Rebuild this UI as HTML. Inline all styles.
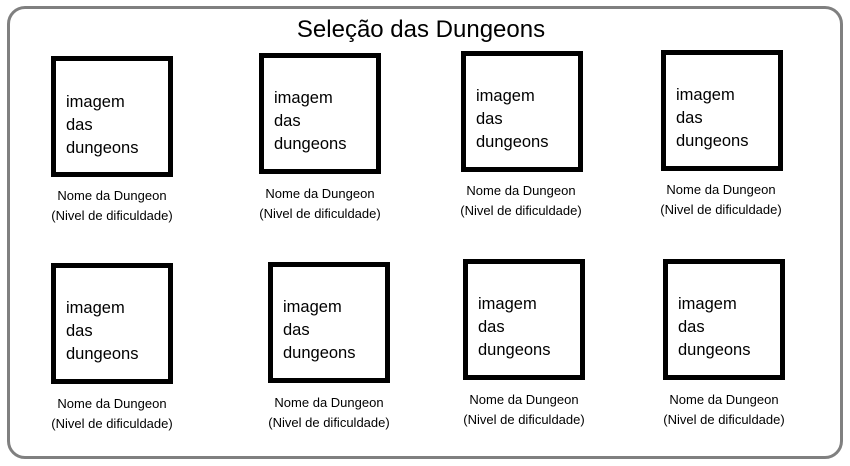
<!DOCTYPE html>
<html><head><meta charset="utf-8"><style>
body{margin:0;width:850px;height:466px;background:#fff;position:relative;overflow:hidden;font-family:"Liberation Sans",sans-serif;}
.frame{position:absolute;left:7px;top:6px;width:830px;height:447px;border:3px solid #808080;border-radius:18px;}
.title{position:absolute;left:0;width:842px;top:16px;text-align:center;font-size:24px;color:#000;}
.box{position:absolute;width:112px;height:111px;border:5px solid #000;box-sizing:content-box;}
.t{position:absolute;font-size:16.5px;line-height:23px;color:#000;}
.c{position:absolute;width:180px;text-align:center;font-size:13px;line-height:19.5px;color:#000;}
</style></head><body>
<div class="frame"></div>
<div class="title">Seleção das Dungeons</div>

<div class="box" style="left:51px;top:56px"></div><div class="t" style="left:66px;top:91px">imagem<br>das<br>dungeons</div>
<div class="c" style="left:22px;top:186px">Nome da Dungeon<br>(Nivel de dificuldade)</div>

<div class="box" style="left:259px;top:53px"></div><div class="t" style="left:274px;top:87px">imagem<br>das<br>dungeons</div>
<div class="c" style="left:230px;top:184px">Nome da Dungeon<br>(Nivel de dificuldade)</div>

<div class="box" style="left:461px;top:51px"></div><div class="t" style="left:476px;top:85px">imagem<br>das<br>dungeons</div>
<div class="c" style="left:431px;top:181px">Nome da Dungeon<br>(Nivel de dificuldade)</div>

<div class="box" style="left:661px;top:50px"></div><div class="t" style="left:676px;top:84px">imagem<br>das<br>dungeons</div>
<div class="c" style="left:631px;top:180px">Nome da Dungeon<br>(Nivel de dificuldade)</div>

<div class="box" style="left:51px;top:263px"></div><div class="t" style="left:66px;top:297px">imagem<br>das<br>dungeons</div>
<div class="c" style="left:22px;top:394px">Nome da Dungeon<br>(Nivel de dificuldade)</div>

<div class="box" style="left:268px;top:262px"></div><div class="t" style="left:283px;top:296px">imagem<br>das<br>dungeons</div>
<div class="c" style="left:239px;top:393px">Nome da Dungeon<br>(Nivel de dificuldade)</div>

<div class="box" style="left:463px;top:259px"></div><div class="t" style="left:478px;top:293px">imagem<br>das<br>dungeons</div>
<div class="c" style="left:434px;top:390px">Nome da Dungeon<br>(Nivel de dificuldade)</div>

<div class="box" style="left:663px;top:259px"></div><div class="t" style="left:678px;top:293px">imagem<br>das<br>dungeons</div>
<div class="c" style="left:634px;top:390px">Nome da Dungeon<br>(Nivel de dificuldade)</div>
</body></html>
